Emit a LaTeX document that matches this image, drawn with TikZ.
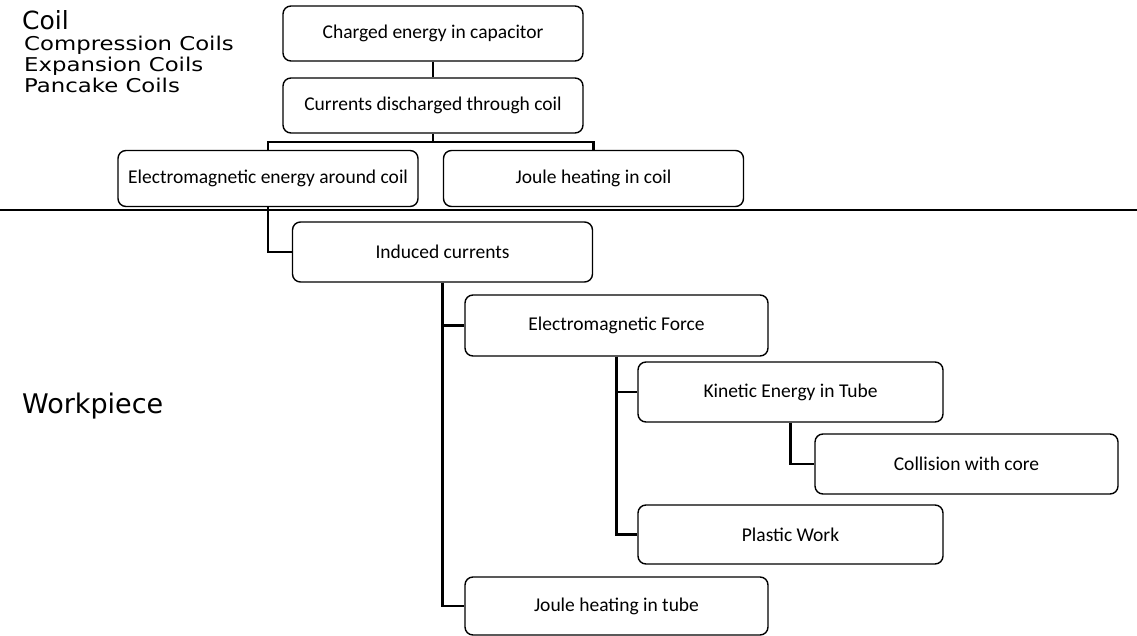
\documentclass[tikz,border=0pt]{standalone}
\usepackage{fontspec}
\usepackage{graphicx}
\setmainfont{Carlito}
\newfontfamily\labfont{DejaVu Sans}
\begin{document}
\begin{tikzpicture}[x=1pt,y=-1pt,
  box/.style={draw, rounded corners=8pt, line width=1.4pt, minimum width=300pt,
    minimum height=56pt, inner sep=0pt, font=\fontsize{19.5}{22}\selectfont},
  conn/.style={line width=2.6pt},
  big/.style={anchor=base west, inner sep=0pt, font=\labfont\fontsize{26}{30}\selectfont},
  small/.style={anchor=base west, inner sep=0pt, font=\labfont\fontsize{19}{22}\selectfont}]
\useasboundingbox (0,0) rectangle (1137,636);
\fill[white] (0,0) rectangle (1137,636);
% left labels
\node[big, font=\labfont\fontsize{25}{30}\selectfont] (coil) at (22,30) {Coil};
\node[small] (c1) at (24,51) {\scalebox{1.2}[1]{Compression Coils}};
\node[small] (c2) at (24,72) {\scalebox{1.2}[1]{Expansion Coils}};
\node[small] (c3) at (24,93) {\scalebox{1.2}[1]{Pancake Coils}};
\node[big, font=\labfont\fontsize{27}{30}\selectfont] (wp) at (22,413) {Workpiece};
% divider
\coordinate (dl) at (0,210);
\coordinate (dr) at (1137,210);
\draw[line width=2pt] (dl) -- (dr);
% boxes
\node[box, minimum height=55pt] (b1) at (433,33.5) {Charged energy in capacitor};
\node[box, minimum height=55pt] (b2) at (433,105.5) {Currents discharged through coil};
\node[box] (b3) at (268,178.5) {Electromagnetic energy around coil};
\node[box] (b4) at (593.5,178.5) {Joule heating in coil};
\node[box, minimum height=60pt] (ind) at (442.5,252) {Induced currents};
\node[box, minimum width=303pt, minimum height=61pt] (ef) at (616.5,325.5) {Electromagnetic Force};
\node[box, minimum width=305pt, minimum height=60pt] (ke) at (790.5,392) {Kinetic Energy in Tube};
\node[box, minimum width=303pt, minimum height=60pt] (col) at (966.5,464) {Collision with core};
\node[box, minimum width=305pt, minimum height=59pt] (pw) at (790.5,534.5) {Plastic Work};
\node[box, minimum width=303pt, minimum height=58pt] (jt) at (616.5,606) {Joule heating in tube};
% connectors
\coordinate (br) at (433,142);
\draw[conn] (b1.south) -- (b2.north);
\draw[conn] (b2.south) -- (br);
\draw[conn] (b3.north) |- (br) -| (b4.north);
\draw[conn] (b3.south) |- (ind.west);
\draw[conn] (ind.south) |- (ef.west);
\draw[conn] (ind.south) |- (jt.west);
\draw[conn] (ef.south) |- (ke.west);
\draw[conn] (ef.south) |- (pw.west);
\draw[conn] (ke.south) |- (col.west);
\end{tikzpicture}
\end{document}
